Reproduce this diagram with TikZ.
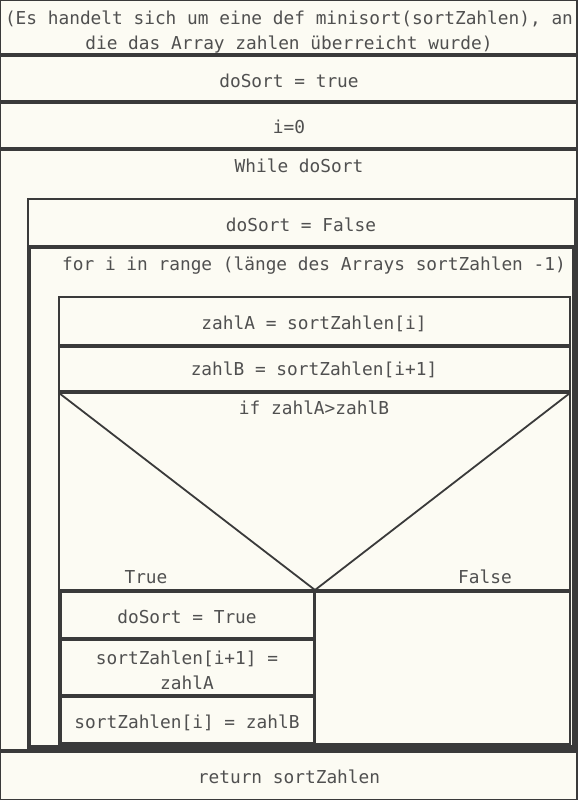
\documentclass[tikz,border=0pt]{standalone}
\usepackage{fontspec}
\setmonofont{DejaVu Sans Mono}
\usetikzlibrary{positioning}

\definecolor{paper}{HTML}{FCFBF3}
\definecolor{rulegray}{HTML}{3A3A3A}
\definecolor{ink}{HTML}{505050}

\begin{document}
\begin{tikzpicture}[x=1pt,y=-1pt,line width=1.8pt,
  block/.style={draw=rulegray},
  txt/.style={text=ink,font=\ttfamily\fontsize{17.8}{25}\selectfont,inner sep=0pt,anchor=mid,yshift=-4pt},
  txtpar/.style={txt,anchor=center,align=center,yshift=3pt}]
  % paper
  \fill[paper] (0,0) rectangle (578,800);
  \useasboundingbox (0,0) rectangle (578,800);

  % head and init
  \draw[block] (0,0) rectangle (577,54);
  \node[txtpar] (head) at (289,31) {(Es handelt sich um eine def minisort(sortZahlen), an\\die das Array zahlen überreicht wurde)};
  \draw[block] (0,56) rectangle (577,101);
  \node[txt] (initSort) at (289,81) {doSort = true};
  \draw[block] (0,103) rectangle (577,148);
  \node[txt] (initI) at (289,127) {i=0};

  % while loop
  \draw[block] (0,150) rectangle (577,750);
  \node[txt] (whileHead) at (299,166) {While doSort};
  \draw[block] (28,199) rectangle (575,748);
  \draw[block] (28,199) rectangle (575,246);
  \node[txt] (resetSort) at (301,225) {doSort = False};

  % for loop
  \draw[block] (30,248) rectangle (573,746);
  \node[txt] (forHead) at (314,264) {for i in range (länge des Arrays sortZahlen -1)};
  \draw[block] (59,297) rectangle (570,744);
  \draw[block] (59,297) rectangle (570,345);
  \node[txt] (takeA) at (314,323) {zahlA = sortZahlen[i]};
  \draw[block] (59,347) rectangle (570,391);
  \node[txt] (takeB) at (314,369) {zahlB = sortZahlen[i+1]};

  % if
  \coordinate (ifLeft) at (59,393);
  \coordinate (ifRight) at (570,393);
  \coordinate (ifTip) at (315,590);
  \draw[block] (ifLeft) rectangle (570,590);
  \draw[block] (ifLeft) -- (ifTip) -- (ifRight);
  \node[txt] (ifHead) at (314,408) {if zahlA>zahlB};
  \node[txt] (yes) at (146,577) {True};
  \node[txt] (no) at (485,577) {False};

  % true branch
  \draw[block] (61,592) rectangle (314,638);
  \node[txt] (setSort) at (187,617) {doSort = True};
  \draw[block] (61,640) rectangle (314,695);
  \node[txtpar] (swapA) at (187,669) {sortZahlen[i+1] =\\zahlA};
  \draw[block] (61,697) rectangle (314,743);
  \node[txt] (swapB) at (187,722) {sortZahlen[i] = zahlB};

  % false branch
  \draw[block] (315,592) rectangle (570,744);

  % return
  \draw[block] (0,752) rectangle (577,800);
  \node[txt] (ret) at (289,777) {return sortZahlen};
\end{tikzpicture}
\end{document}
